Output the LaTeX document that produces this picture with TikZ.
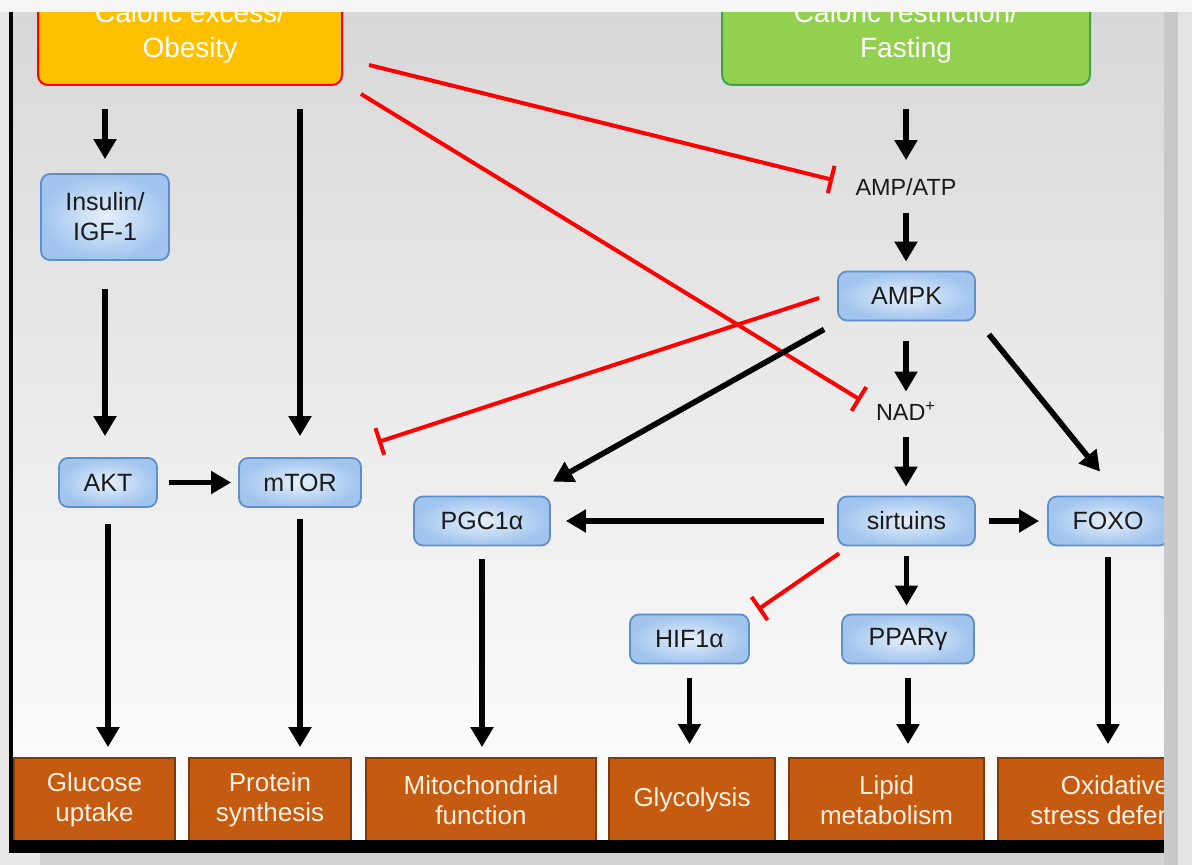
\documentclass[tikz,border=0pt]{standalone}
\usepackage{fontspec}
\setmainfont{Liberation Sans}
\usetikzlibrary{arrows.meta,calc}
\definecolor{outerbg}{HTML}{E9E9E9}
\definecolor{topstrip}{HTML}{F6F6F6}
\definecolor{stripedark}{HTML}{C9C9C9}
\definecolor{stripelight}{HTML}{E3E3E3}
\definecolor{bottomgray}{HTML}{D3D3D3}
\definecolor{slidetop}{HTML}{D8D8D8}
\definecolor{slidemid}{HTML}{EFEFEF}
\definecolor{inhred}{HTML}{FF0000}
\definecolor{obesityfill}{HTML}{FFC000}
\definecolor{fastfill}{HTML}{92D050}
\definecolor{fastdraw}{HTML}{3FA34D}
\definecolor{outfill}{HTML}{C55A11}
\definecolor{outdraw}{HTML}{7F3A0C}
\definecolor{outtext}{HTML}{FFF0E2}
\definecolor{blueinner}{HTML}{E6F0FB}
\definecolor{blueouter}{HTML}{A0C4EE}
\definecolor{bluedraw}{HTML}{5E8FC9}
\definecolor{nodetext}{HTML}{1A1A1A}
\tikzset{
  topbox/.style={rounded corners=5pt, line width=1pt, inner sep=0pt, align=center,
    text=white, font=\fontsize{14}{17.5}\selectfont, minimum height=52.5pt},
  bluebox/.style={rounded corners=4.5pt, draw=bluedraw, line width=0.9pt,
    shading=radial, inner color=blueinner, outer color=blueouter,
    inner sep=0pt, align=center, text=nodetext,
    font=\fontsize{12.5}{15}\selectfont, minimum height=24.5pt},
  plainlabel/.style={inner sep=0pt, text height=8.5pt, text depth=0pt, text=nodetext,
    font=\fontsize{11.7}{14}\selectfont},
  outbox/.style={fill=outfill, draw=outdraw, line width=0.9pt, inner sep=0pt,
    align=center, text=outtext, font=\fontsize{13}{15}\selectfont, minimum height=42pt},
  arr/.style={line width=2.8pt, draw=black, -{Triangle[width=11pt,length=10pt]}},
  inh/.style={line width=2pt, draw=inhred, -{Bar[width=14pt]}}
}
\begin{document}
\begin{tikzpicture}[x=0.5pt,y=-0.5pt]
\useasboundingbox (0,0) rectangle (1192,865);
\fill[outerbg] (0,0) rectangle (1192,865);
\fill[bottomgray] (40,853) rectangle (1164,865);
\begin{scope}
\clip (13,12) rectangle (1164,840);
\shade[top color=slidetop, middle color=slidemid, bottom color=white] (13,12) rectangle (1164,840);

% top boxes
\node[topbox, fill=obesityfill, draw=inhred, minimum width=152pt] (obesity) at (190,32.5) {Caloric excess/\\Obesity};
\node[topbox, fill=fastfill, draw=fastdraw, minimum width=184pt] (fasting) at (906,32.5) {Caloric restriction/\\Fasting};

% blue nodes
\node[bluebox, minimum width=64pt, minimum height=43pt] (insulin) at (105,217) {Insulin/\\IGF-1};
\node[bluebox, minimum width=49pt] (akt) at (108,482.5) {AKT};
\node[bluebox, minimum width=61pt] (mtor) at (300,482.5) {mTOR};
\node[bluebox, minimum width=68pt] (pgc) at (482,521) {PGC1α};
\node[plainlabel] (amp) at (906,187) {AMP/ATP};
\node[bluebox, minimum width=68.5pt] (ampk) at (906.5,296) {AMPK};
\node[plainlabel] (nad) at (906,412) {NAD\textsuperscript{+}};
\node[bluebox, minimum width=68.5pt] (sirt) at (906.5,521) {sirtuins};
\node[bluebox, minimum width=60pt] (foxo) at (1108,521) {FOXO};
\node[bluebox, minimum width=59.5pt] (hif) at (689.5,639) {HIF1α};
\node[bluebox, minimum width=66pt] (ppar) at (908,639) {PPARγ};

% outcome boxes
\node[outbox, minimum width=80.5pt] (glucose) at (94.5,800) {Glucose\\uptake};
\node[outbox, minimum width=81pt] (protein) at (270,800) {Protein\\synthesis};
\node[outbox, minimum width=115pt] (mito) at (481,800) {Mitochondrial\\function};
\node[outbox, minimum width=83pt] (glyc) at (692,800) {Glycolysis};
\node[outbox, minimum width=97.5pt] (lipid) at (886.5,800) {Lipid\\metabolism};
\node[outbox, minimum width=117pt] (oxid) at (1115,800) {Oxidative\\stress defense};

% inhibitions
\draw[inh] ([shift={(26,-21)}]obesity.south east) -- ([shift={(-22,-7)}]amp.west);
\draw[inh] ([shift={(18,8)}]obesity.south east) -- ([shift={(-15,-12)}]nad.west);
\draw[inh] ([shift={(-18,2)}]ampk.west) -- ([shift={(16,-15)}]mtor.north east);
\draw[inh] ([shift={(2,7)}]sirt.south west) -- ([shift={(8,-4)}]hif.north east);

% activations
\draw[arr, shorten <=11.5pt, shorten >=7pt] (obesity.south -| insulin.north) -- (insulin.north);
\draw[arr, shorten <=11.5pt, shorten >=10.5pt] (obesity.south -| mtor.north) -- (mtor.north);
\draw[arr, shorten <=14pt, shorten >=10.5pt] (insulin.south) -- (insulin.south |- akt.north);
\draw[arr, shorten <=5.5pt, shorten >=3.5pt] (akt.east) -- (mtor.west);
\draw[arr, shorten <=8pt, shorten >=5pt] (akt.south) -- (akt.south |- glucose.north);
\draw[arr, shorten <=5.5pt, shorten >=5pt] (mtor.south) -- (mtor.south |- protein.north);
\draw[arr, shorten <=6.5pt, shorten >=5pt] (pgc.south) -- (pgc.south |- mito.north);
\draw[arr, shorten <=11.5pt, shorten >=9pt] (fasting.south) -- (amp.north);
\draw[arr, shorten <=8.5pt, shorten >=4.5pt] (amp.south) -- (ampk.north -| amp.south);
\draw[arr, shorten <=10pt, shorten >=5.75pt] (ampk.south -| nad.north) -- (nad.north);
\draw[arr, shorten <=8.25pt, shorten >=4.5pt] (nad.south) -- (sirt.north -| nad.south);
\draw[arr] ([shift={(-13,8)}]ampk.south west) -- ([shift={(2,-14)}]pgc.north east);
\draw[arr] ([shift={(13,13)}]ampk.south east) -- ([shift={(-8,-24)}]foxo.north);
\draw[arr, shorten <=6.5pt, shorten >=7.5pt] (sirt.west) -- (pgc.east);
\draw[arr, shorten <=6.5pt, shorten >=4pt] (sirt.east) -- (foxo.west);
\draw[arr, shorten <=5pt, shorten >=4pt] (sirt.south) -- (sirt.south |- ppar.north);
\draw[arr, shorten <=7pt, shorten >=6.5pt] (hif.south) -- (hif.south |- glyc.north);
\draw[arr, shorten <=7pt, shorten >=6.5pt] (ppar.south) -- (ppar.south |- lipid.north);
\draw[arr, shorten <=5.5pt, shorten >=6.5pt] (foxo.south) -- (foxo.south |- oxid.north);
\end{scope}

% frame of the screenshot
\fill[stripedark] (1164,12) rectangle (1178,865);
\fill[stripelight] (1178,12) rectangle (1192,865);
\fill[topstrip] (0,0) rectangle (1192,12);
\fill[black] (9,12) rectangle (13,853);
\fill[black] (9,840) rectangle (1164,853);
\end{tikzpicture}
\end{document}
